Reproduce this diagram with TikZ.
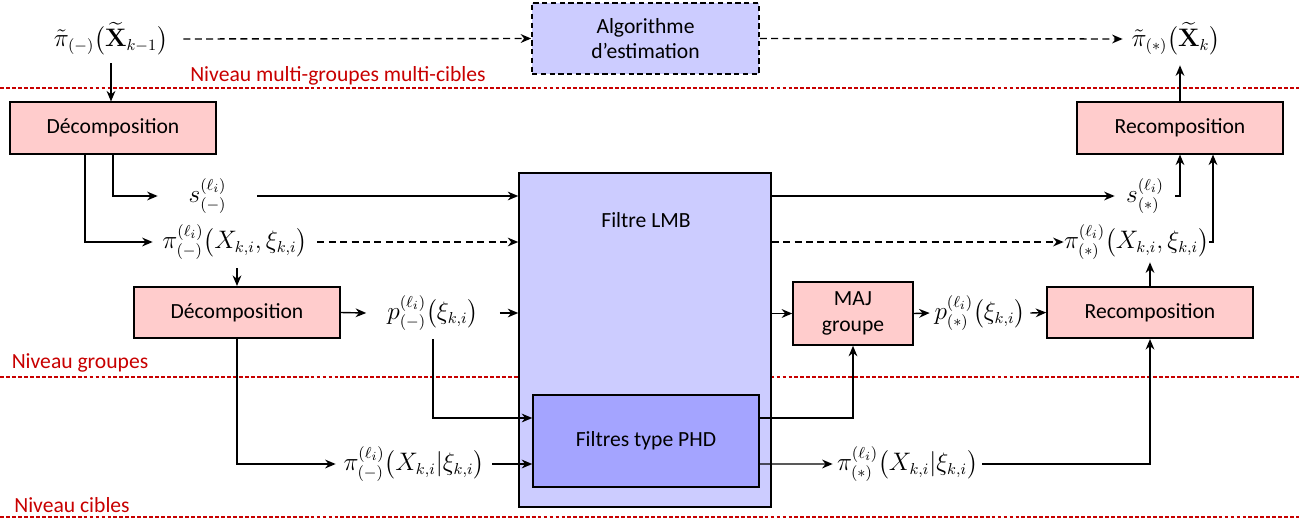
\documentclass[tikz,border=0pt]{standalone}
\usepackage{amsmath,amssymb}
\usepackage[no-math]{fontspec}
\setmainfont{Carlito}
\usetikzlibrary{arrows.meta,positioning}
\definecolor{rosebox}{RGB}{255,204,204}
\definecolor{lmbfill}{RGB}{204,204,255}
\definecolor{phdfill}{RGB}{164,164,255}
\definecolor{niveaured}{RGB}{200,0,0}
\tikzset{
  block/.style  = {draw, line width=0.9pt, align=center, fill=rosebox,
                   font=\fontsize{12.3}{14.5}\selectfont, minimum width=4.12cm,
                   minimum height=1.03cm},
  algo/.style   = {block, fill=lmbfill, dash pattern=on 3pt off 2pt,
                   minimum width=4.54cm, minimum height=1.42cm},
  filtre/.style = {draw, line width=0.9pt, fill=lmbfill},
  phd/.style    = {block, fill=phdfill, minimum width=4.52cm, minimum height=1.84cm},
  lbl/.style    = {inner sep=0pt, font=\fontsize{13.5}{15}\selectfont},
  arrow/.style  = {-{Stealth[length=6pt,width=5pt]}, line width=0.8pt},
  darrow/.style = {arrow, dash pattern=on 4pt off 2.5pt},
  niveau/.style = {niveaured, line width=0.7pt, dash pattern=on 2.2pt off 1.2pt},
  nivtext/.style= {text=niveaured, inner sep=0pt, font=\fontsize{12.3}{14.5}\selectfont},
}

\begin{document}
\begin{tikzpicture}[x=0.02cm, y=-0.02cm]
  \useasboundingbox (0,0) rectangle (1299,525);

  % niveaux
  \draw[niveau] (0,88) -- (1299,88);
  \draw[niveau] (0,377) -- (1299,377);
  \draw[niveau] (0,517) -- (1299,517);
  \node[nivtext] (nivA) at (338,76)  {Niveau multi-groupes multi-cibles};
  \node[nivtext] (nivB) at (80,363)  {Niveau groupes};
  \node[nivtext] (nivC) at (72,505)  {Niveau cibles};

  % boites
  \node[filtre, minimum width=5.04cm, minimum height=6.68cm] (lmb) at (645,340) {};
  \node[lbl, font=\fontsize{12.3}{14.5}\selectfont] (lmbtxt) at (646,220) {Filtre LMB};
  \node[phd]   (phd)  at (646,441)   {Filtres type PHD};
  \node[algo]  (algo) at (645.5,38.5) {Algorithme\\d'estimation};
  \node[block] (dec1) at (113,128)   {Décomposition};
  \node[block] (rec1) at (1180,128)  {Recomposition};
  \node[block] (dec2) at (237,312.5) {Décomposition};
  \node[block] (rec2) at (1150,312.5) {Recomposition};
  \node[block, minimum width=2.4cm, minimum height=1.26cm] (maj) at (853,313.5) {MAJ\\groupe};

  % densites
  \node[lbl, minimum width=2.88cm, minimum height=0.96cm] (pit) at (111,39)
    {$\tilde{\pi}_{(-)}\big(\widetilde{\mathbf{X}}_{k-1}\big)$};
  \node[lbl, minimum width=2.12cm, minimum height=1.04cm] (pits) at (1176,39)
    {$\tilde{\pi}_{(*)}\big(\widetilde{\mathbf{X}}_{k}\big)$};
  \node[lbl, minimum width=1.98cm] (sm) at (207.5,196) {$s_{(-)}^{(\ell_i)}$};
  \node[lbl, minimum width=3.28cm, minimum height=1.04cm] (pim) at (235,242)
    {$\pi_{(-)}^{(\ell_i)}\big(X_{k,i},\xi_{k,i}\big)$};
  \node[lbl, minimum width=2.66cm, minimum height=1.04cm] (pm) at (433,313)
    {$p_{(-)}^{(\ell_i)}\big(\xi_{k,i}\big)$};
  \node[lbl, minimum width=3.12cm] (pcm) at (414,464)
    {$\pi_{(-)}^{(\ell_i)}\big(X_{k,i}|\xi_{k,i}\big)$};
  \node[lbl, minimum width=1.2cm] (ss) at (1145,196) {$s_{(*)}^{(\ell_i)}$};
  \node[lbl, minimum width=2.86cm, minimum height=0.8cm] (pis) at (1136.5,242)
    {$\pi_{(*)}^{(\ell_i)}\big(X_{k,i},\xi_{k,i}\big)$};
  \node[lbl, minimum width=2.0cm] (ps) at (980,313)
    {$p_{(*)}^{(\ell_i)}\big(\xi_{k,i}\big)$};
  \node[lbl, minimum width=2.98cm] (pcs) at (907.5,464)
    {$\pi_{(*)}^{(\ell_i)}\big(X_{k,i}|\xi_{k,i}\big)$};

  % niveau multi-groupes
  \draw[darrow] (pit.east) -- (algo.west);
  \draw[darrow] (algo.east) -- (pits.west);
  \draw[arrow] (pit.south) -- (pit.south |- dec1.north);
  \draw[arrow] (rec1.north) -- (rec1.north |- pits.south);

  % gauche
  \draw[arrow] (dec1.south) |- (sm.west);
  \draw[arrow] ([xshift=-0.56cm]dec1.south) |- (pim.west);
  \draw[arrow] (sm.east) -- (sm.east -| lmb.west);
  \draw[darrow] (pim.east) -- (pim.east -| lmb.west);
  \draw[arrow] (dec2.north |- pim.south) -- (dec2.north);
  \draw[arrow] (dec2.east) -- (pm.west);
  \draw[arrow] (pm.east) -- (pm.east -| lmb.west);
  \draw[arrow] (pm.south) |- ([yshift=0.46cm]phd.west);
  \draw[arrow] (dec2.south) |- (pcm.west);
  \draw[arrow] (pcm.east) -- (pcm.east -| phd.west);

  % droite
  \draw[arrow] (ss.west -| lmb.east) -- (ss.west);
  \draw[darrow] (pis.west -| lmb.east) -- (pis.west);
  \draw[arrow] (ss.east) -| (rec1.south);
  \draw[arrow] (pis.east) -| ([xshift=0.66cm]rec1.south);
  \draw[arrow] (maj.west -| lmb.east) -- (maj.west);
  \draw[arrow] (maj.east) -- (ps.west);
  \draw[arrow] (ps.east) -- (rec2.west);
  \draw[arrow] (rec2.north) -- (rec2.north |- pis.south);
  \draw[arrow] ([yshift=0.46cm]phd.east) -| (maj.south);
  \draw[arrow] ([yshift=-0.46cm]phd.east) -- (pcs.west);
  \draw[arrow] (pcs.east) -| (rec2.south);
\end{tikzpicture}
\end{document}
